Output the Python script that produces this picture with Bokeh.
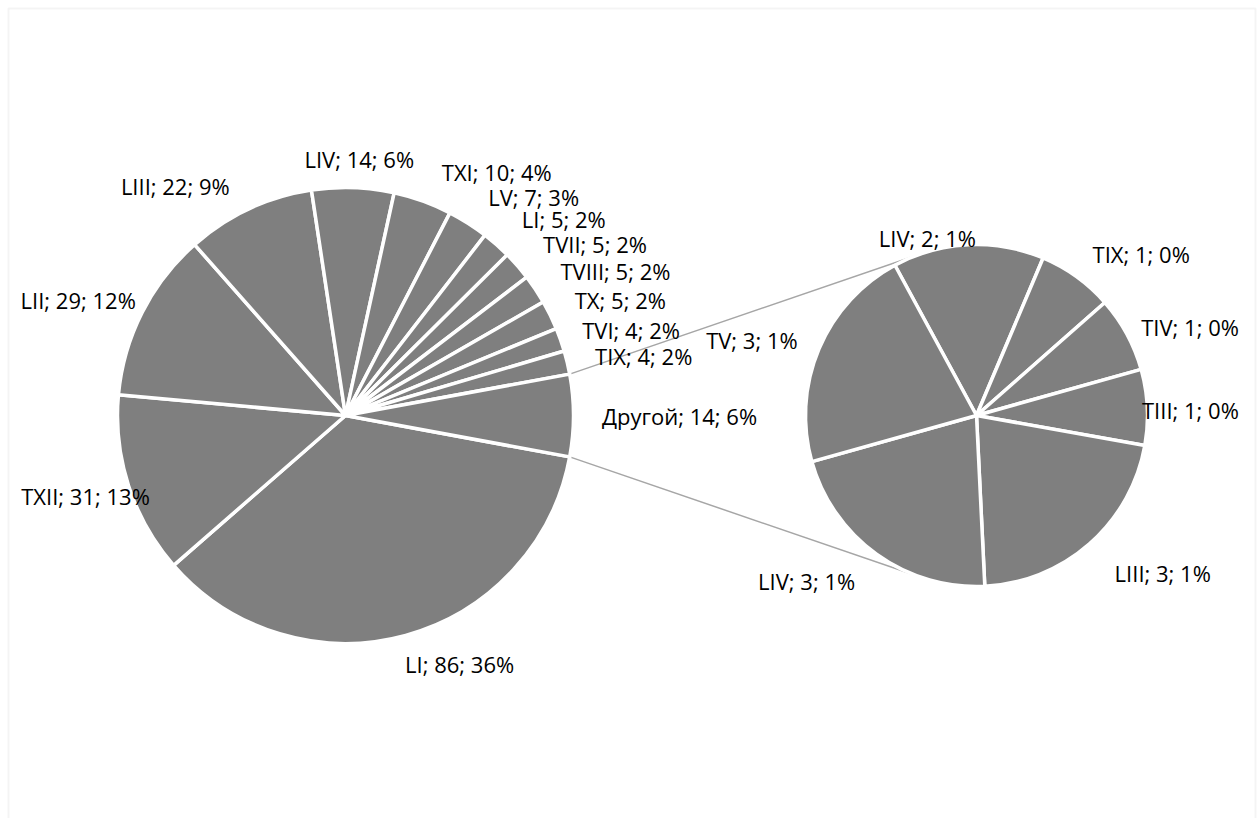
import math

from bokeh.core.properties import value
from bokeh.embed import file_html
from bokeh.models import BoxAnnotation, ColumnDataSource, Range1d
from bokeh.plotting import figure
from bokeh.resources import INLINE

# --- data -------------------------------------------------------------
main_labels = ["LI", "TXII", "LII", "LIII", "LIV", "TXI", "LV", "LI",
               "TVII", "TVIII", "TX", "TVI", "TIX", "Другой"]
main_values = [86, 31, 29, 22, 14, 10, 7, 5, 5, 5, 5, 4, 4, 14]

other_labels = ["LIV", "TIX", "TIV", "TIII", "LIII", "LIV", "TV"]
other_values = [2, 1, 1, 1, 3, 3, 3]

# --- layout -----------------------------------------------------------
W, H = 1258, 818
MAIN_C = (345.0, 403.0)
MAIN_R = 228.0
SUB_C = (976.0, 403.0)
SUB_R = 171.0
SUB_START = 118.5          # angle (deg) where the first slice of the small pie begins

# label placement: (angle shift in degrees from slice middle, distance from centre)
main_label_pos = [(9.4, 273), (-0.8, 272), (3.6, 291), (11.5, 286), (-1.2, 257),
                  (-12.0, 287), (-8.3, 288), (-6.5, 294), (-6.5, 303), (-5.5, 306),
                  (-3.4, 298), (-2.8, 298), (-2.2, 304), (0.0, 334)]
sub_label_pos = [(12.7, 184), (-9.7, 231), (-6.1, 231), (-1.4, 214),
                 (8.4, 244), (-10.0, 237), (4.3, 237)]

FILL = "#7f7f7f"
FONT = "Open Sans"
FONT_SIZE = "22px"

total = sum(main_values)


def pct(v):
    return int(v / total * 100 + 0.5)


def slices(values, start_deg):
    """Clockwise slices starting at start_deg; returns (lo, hi, mid) in degrees."""
    s = sum(values)
    out = []
    a = start_deg
    for v in values:
        span = v / s * 360.0
        out.append((a - span, a, a - span / 2))
        a -= span
    return out


# the "other" slice (drawn last, clockwise) is centred on the axis pointing right
other_span = main_values[-1] / total * 360.0
main_start = -other_span / 2.0
main_sl = slices(main_values, main_start)
sub_sl = slices(other_values, SUB_START)


def wedge_source(sl, labels, values, c, label_pos):
    xs, ys, texts = [], [], []
    for (lo, hi, mid), lab, v, (shift, dist) in zip(sl, labels, values, label_pos):
        ang = math.radians(mid + shift)
        xs.append(c[0] + dist * math.cos(ang))
        ys.append(c[1] + dist * math.sin(ang))
        texts.append(f"{lab}; {v}; {pct(v)}%")
    return ColumnDataSource(dict(
        start=[math.radians(lo) for lo, _, _ in sl],
        end=[math.radians(hi) for _, hi, _ in sl],
        lx=xs, ly=ys, text=texts,
    ))


def tangent_point(px, py, cx, cy, r, upper):
    """Point where a line from (px, py) touches the circle (cx, cy, r)."""
    dx, dy = cx - px, cy - py
    d = math.hypot(dx, dy)
    phi = math.atan2(dy, dx)
    beta = math.asin(r / d)
    ang = phi + beta if upper else phi - beta
    L = math.sqrt(d * d - r * r)
    return px + L * math.cos(ang), py + L * math.sin(ang)


main_src = wedge_source(main_sl, main_labels, main_values, MAIN_C, main_label_pos)
sub_src = wedge_source(sub_sl, other_labels, other_values, SUB_C, sub_label_pos)

p = figure(width=W, height=H, x_range=Range1d(0, W), y_range=Range1d(0, H),
           toolbar_location=None, output_backend="svg", min_border=0,
           x_axis_type=None, y_axis_type=None)
p.grid.visible = False
p.outline_line_color = None
p.background_fill_color = "white"

# chart frame
p.add_layout(BoxAnnotation(left=8, right=1255, top=H - 8, bottom=-40,
                           fill_alpha=0, line_color="#d9d9d9", line_width=2))

# connector lines from the edges of the "other" slice, tangent to the small pie
a_top = math.radians(other_span / 2.0)
a_bot = math.radians(-other_span / 2.0)
top0 = (MAIN_C[0] + MAIN_R * math.cos(a_top), MAIN_C[1] + MAIN_R * math.sin(a_top))
bot0 = (MAIN_C[0] + MAIN_R * math.cos(a_bot), MAIN_C[1] + MAIN_R * math.sin(a_bot))
top1 = tangent_point(*top0, *SUB_C, SUB_R, True)
bot1 = tangent_point(*bot0, *SUB_C, SUB_R, False)
p.segment(x0=[top0[0], bot0[0]], y0=[top0[1], bot0[1]],
          x1=[top1[0], bot1[0]], y1=[top1[1], bot1[1]],
          line_color="#a6a6a6", line_width=1.5)

p.wedge(x=MAIN_C[0], y=MAIN_C[1], radius=MAIN_R, start_angle="start", end_angle="end",
        source=main_src, fill_color=FILL, line_color="white", line_width=3.5)
p.wedge(x=SUB_C[0], y=SUB_C[1], radius=SUB_R, start_angle="start", end_angle="end",
        source=sub_src, fill_color=FILL, line_color="white", line_width=3.5)

for src in (main_src, sub_src):
    p.text(x="lx", y="ly", text="text", source=src, text_align="center",
           text_baseline="middle", text_font=value(FONT), text_font_size=FONT_SIZE,
           text_color="#000000")

open("out.html", "w").write(file_html(p, INLINE))
